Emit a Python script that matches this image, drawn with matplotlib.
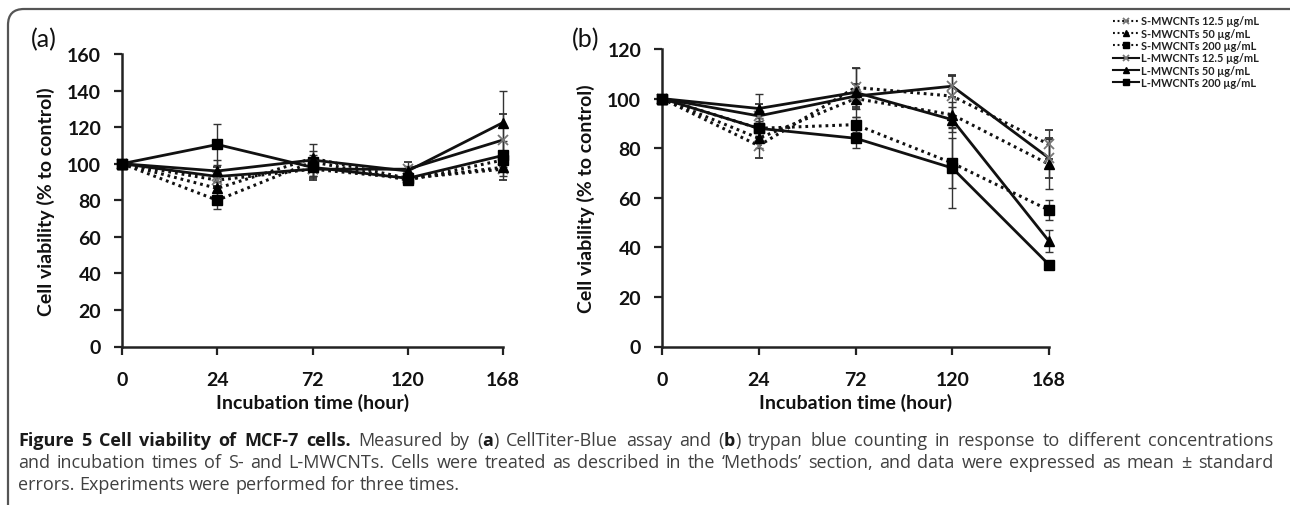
import matplotlib
matplotlib.use("Agg")
import matplotlib.pyplot as plt
from matplotlib.patches import FancyBboxPatch
from matplotlib.transforms import IdentityTransform
import numpy as np

# ---------------- data ----------------
time_labels = ["0", "24", "72", "120", "168"]
series_names = ["S-MWCNTs 12.5 \u00b5g/mL", "S-MWCNTs 50 \u00b5g/mL", "S-MWCNTs 200 \u00b5g/mL",
                "L-MWCNTs 12.5 \u00b5g/mL", "L-MWCNTs 50 \u00b5g/mL", "L-MWCNTs 200 \u00b5g/mL"]

# panel (a) CellTiter-Blue
a_s125 = [100, 91, 97, 92, 97]
a_s50 = [100, 86.5, 103, 92, 98]
a_s200 = [100, 80, 101, 91, 102]
a_l125 = [100, 93, 97, 97, 113]
a_l50 = [100, 96, 102, 96, 122.5]
a_l200 = [100, 110.5, 98, 92, 104.5]
a_s125_err = [0, 3, 5, 3, 6]
a_s50_err = [0, 4, 4, 2, 5]
a_s200_err = [0, 5, 4, 2, 4]
a_l125_err = [0, 5, 6, 4, 14]
a_l50_err = [0, 6, 9, 3, 17]
a_l200_err = [0, 11, 5, 2, 8]

# panel (b) trypan blue
b_s125 = [100, 81, 104.5, 101, 81.5]
b_s50 = [100, 84, 100, 93.5, 73.5]
b_s200 = [100, 88, 89.5, 74, 55]
b_l125 = [100, 93, 101, 105, 76]
b_l50 = [100, 96, 102.5, 91.5, 42.5]
b_l200 = [100, 88, 84, 72, 33]
b_s125_err = [0, 5, 8, 8, 6]
b_s50_err = [0, 4, 4, 5, 10]
b_s200_err = [0, 4, 3, 10, 4]
b_l125_err = [0, 5, 5, 4.5, 8]
b_l50_err = [0, 6, 10, 5, 4.5]
b_l200_err = [0, 3, 4, 16, 1]

a_yticks = [0, 20, 40, 60, 80, 100, 120, 140, 160]
b_yticks = [0, 20, 40, 60, 80, 100, 120]

# ---------------- style ----------------
W, H = 1290, 506
fig = plt.figure(figsize=(W / 100, H / 100), dpi=100)
CHART_FONT = ["Lato", "DejaVu Sans"]
CAP_FONT = ["Open Sans", "DejaVu Sans"]
plt.rcParams["font.family"] = CHART_FONT

dotted = (0, (0.9, 1.3))
styles = [
    dict(ls=dotted, marker="x", ms=7, mfc="#777777", mec="#777777", mew=1.3, lw=2.2),
    dict(ls=dotted, marker="^", ms=6.5, mfc="black", mec="black", lw=2.2),
    dict(ls=dotted, marker="s", ms=6.5, mfc="black", mec="black", lw=2.2),
    dict(ls="-", marker="x", ms=7, mfc="#777777", mec="#777777", mew=1.3, lw=2.0),
    dict(ls="-", marker="^", ms=6.5, mfc="black", mec="black", lw=2.0),
    dict(ls="-", marker="s", ms=6.5, mfc="black", mec="black", lw=2.0),
]


def px_axes(l, r, b, t):
    return [l / W, (H - b) / H, (r - l) / W, (b - t) / H]


def draw_panel(ax, vals, errs, ymax, yticks):
    x = np.arange(len(time_labels))
    handles = []
    for v, e, st in zip(vals, errs, styles):
        eb = ax.errorbar(x, v, yerr=e, color="#111111", ecolor="#333333",
                         elinewidth=1.0, capsize=3, capthick=1.0,
                         linestyle=st["ls"], lw=st["lw"], marker=st["marker"],
                         ms=st["ms"], mfc=st["mfc"], mec=st["mec"],
                         mew=st.get("mew", 1.0), clip_on=False, zorder=3)
        for art in eb.lines[1]:
            art.set_clip_on(False)
        for art in eb.lines[2]:
            art.set_clip_on(False)
        handles.append(eb.lines[0])
    ax.set_xlim(0, len(time_labels) - 1)
    ax.set_ylim(0, ymax)
    ax.set_xticks(x)
    ax.set_xticklabels(time_labels)
    ax.set_yticks(yticks)
    for s in ["top", "right"]:
        ax.spines[s].set_visible(False)
    for s in ["left", "bottom"]:
        ax.spines[s].set_linewidth(1.8)
        ax.spines[s].set_color("#222222")
    ax.tick_params(axis="both", direction="out", length=6, width=1.6,
                   color="#222222", labelsize=14, labelcolor="#111111")
    ax.tick_params(axis="x", pad=12)
    ax.tick_params(axis="y", pad=9)
    for lab in ax.get_xticklabels() + ax.get_yticklabels():
        lab.set_fontweight("bold")
    ax.set_xlabel("Incubation time (hour)", fontsize=14, fontweight="bold",
                  labelpad=3, color="#111111")
    ax.set_ylabel("Cell viability (% to control)", fontsize=14, fontweight="bold",
                  labelpad=9, color="#111111")
    return handles


ax_a = fig.add_axes(px_axes(122, 503, 347.5, 55))
draw_panel(ax_a, [a_s125, a_s50, a_s200, a_l125, a_l50, a_l200],
           [a_s125_err, a_s50_err, a_s200_err, a_l125_err, a_l50_err, a_l200_err],
           160, a_yticks)
ax_b = fig.add_axes(px_axes(662, 1049, 347.5, 50))
hb = draw_panel(ax_b, [b_s125, b_s50, b_s200, b_l125, b_l50, b_l200],
                [b_s125_err, b_s50_err, b_s200_err, b_l125_err, b_l50_err, b_l200_err],
                120, b_yticks)

fig.text(44 / W, 1 - 40 / H, "(a)", fontsize=18, ha="center", va="center", color="#111111")
fig.text(586 / W, 1 - 40 / H, "(b)", fontsize=18, ha="center", va="center", color="#111111")

leg = fig.legend(hb, series_names, loc="upper left", bbox_to_anchor=(1108 / W, 1 - 11 / H),
                 frameon=False, handlelength=2.4, handletextpad=0.15, labelspacing=0.12,
                 borderpad=0, prop=dict(size=7.8, weight="bold", family=CHART_FONT))
for t in leg.get_texts():
    t.set_color("#222222")
for h in leg.legend_handles:
    h.set_markersize(4.5)
    h.set_linewidth(1.5)

# ---------------- frame ----------------
frame = FancyBboxPatch((8, -400), 1500, (H - 10) + 400,
                       boxstyle="round,pad=0,rounding_size=16",
                       transform=IdentityTransform(), fill=False, lw=1.6,
                       ec="#555555", clip_on=False)
fig.patches.append(frame)

# ---------------- caption ----------------
B, N = "bold", "normal"
DARK, GREY = "#1a1a1a", "#404040"
line1 = "Figure 5 Cell viability of MCF-7 cells.".split() + \
    "Measured by (a) CellTiter-Blue assay and (b) trypan blue counting in response to different concentrations".split()
line2 = "and incubation times of S- and L-MWCNTs. Cells were treated as described in the \u2018Methods\u2019 section, and data were expressed as mean \u00b1 standard".split()
line3 = "errors. Experiments were performed for three times.".split()


def tokens(words, nbold=0):
    out = []
    for i, w in enumerate(words):
        if i < nbold:
            out.append([(w, B, DARK)])
        elif w in ("(a)", "(b)"):
            out.append([("(", N, GREY), (w[1], B, DARK), (")", N, GREY)])
        else:
            out.append([(w, N, GREY)])
    return out


cap_lines = [(tokens(line1, 7), True), (tokens(line2), True), (tokens(line3), False)]
cap_y = [446, 468, 490]
cap_x0, cap_x1 = 18, 1273

renderer = fig.canvas.get_renderer()


def width_of(s, wt, size):
    t = fig.text(0, 0, s, fontsize=size, fontweight=wt, family=CAP_FONT)
    w = t.get_window_extent(renderer).width
    t.remove()
    return w


def natural_width(toks, size):
    sp = width_of("a a", N, size) - width_of("aa", N, size)
    tw = sum(width_of(s, wt, size) for tok in toks for (s, wt, c) in tok)
    return tw + sp * (len(toks) - 1)


# choose size so the widest justified line fits naturally
base = 10.0
nat = max(natural_width(cap_lines[0][0], base), natural_width(cap_lines[1][0], base))
cap_size = min(base * (cap_x1 - cap_x0) / nat * 0.995, 13.0)

space_w = width_of("a a", N, cap_size) - width_of("aa", N, cap_size)
for (toks, just), yb in zip(cap_lines, cap_y):
    pw = [[width_of(s, wt, cap_size) for (s, wt, c) in tok] for tok in toks]
    tw = [sum(p) for p in pw]
    if just and len(toks) > 1:
        gap = (cap_x1 - cap_x0 - sum(tw)) / (len(toks) - 1)
    else:
        gap = space_w
    x = cap_x0
    for tok, p, w in zip(toks, pw, tw):
        xx = x
        for (s, wt, c), pwid in zip(tok, p):
            fig.text(xx, H - yb, s, fontsize=cap_size, fontweight=wt, family=CAP_FONT,
                     color=c, transform=IdentityTransform(), ha="left", va="baseline")
            xx += pwid
        x += w + gap

fig.savefig("out.png", dpi=100)
